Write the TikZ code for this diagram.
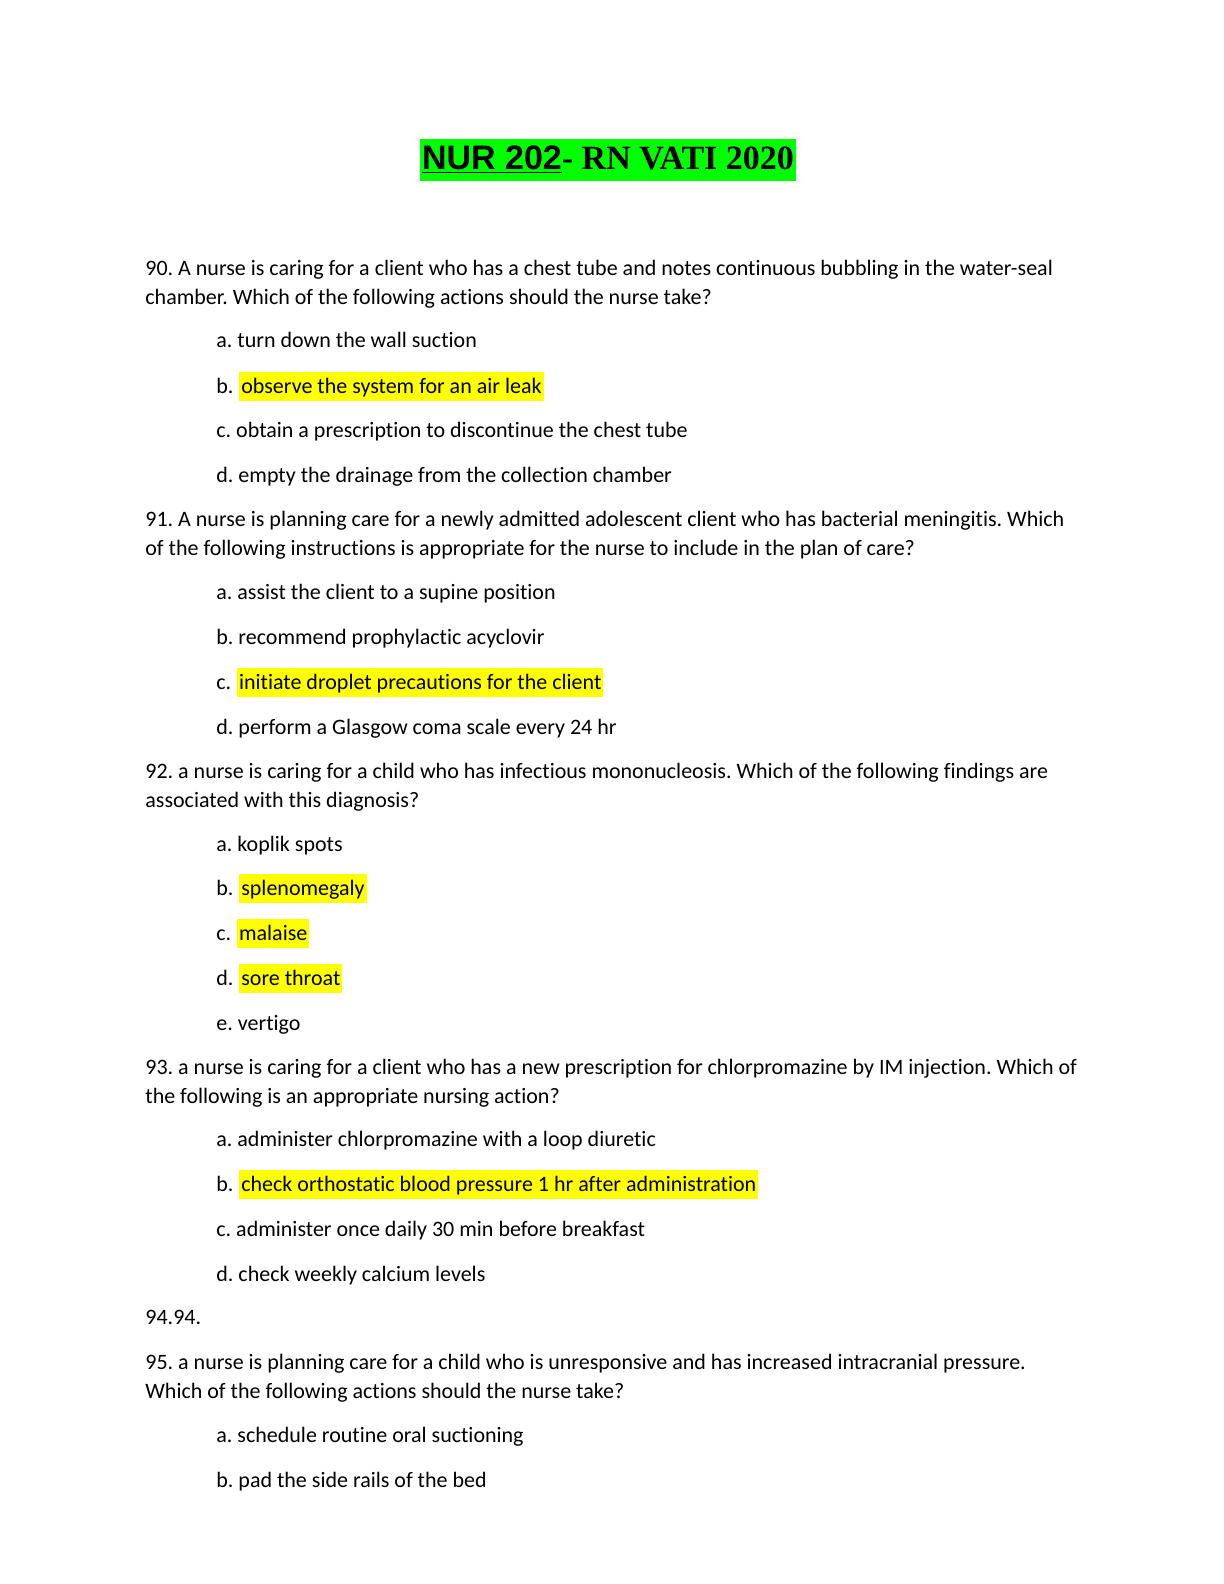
\documentclass[tikz,border=0pt]{standalone}
\usepackage{fontspec}
\setmainfont[Ligatures={NoCommon}]{Carlito}
\newfontfamily\arialfont{Liberation Sans}
\newfontfamily\timesfont{Liberation Serif}
\usetikzlibrary{positioning}
\definecolor{hlyellow}{RGB}{255,255,0}
\definecolor{hlgreen}{RGB}{0,255,0}
\tikzset{
  txt/.style={anchor=base west, inner sep=0pt, font=\frenchspacing\fontsize{11}{13}\selectfont},
  hl/.style={txt, fill=hlyellow, inner xsep=1pt, inner ysep=1.5pt, text depth=2.5pt, text height=9pt},
}
\begin{document}
\begin{tikzpicture}[x=0.5pt, y=-0.5pt]
  \useasboundingbox (0,0) rectangle (1224,1584);

  % title
  \node[fill=hlgreen, inner xsep=1pt, inner ysep=3.5pt, font=\bfseries\fontsize{17}{19}\selectfont] (title) at (608,160)
    {{\arialfont\underline{NUR 202}}{\timesfont- RN VATI 2020}};

  % question 90
  \node[txt] (q90a) at (145,275) {90. A nurse is caring for a client who has a chest tube and notes continuous bubbling in the water-seal};
  \node[txt] (q90b) at (145,304) {chamber. Which of the following actions should the nurse take?};
  \node[txt] (o90a) at (216,347) {a. turn down the wall suction};
  \node[txt] (o90b) at (216,393) {b.};
  \node[hl, anchor=base west] (h90b) at ([xshift=2.5pt]o90b.base east) {observe the system for an air leak};
  \node[txt] (o90c) at (216,437) {c. obtain a prescription to discontinue the chest tube};
  \node[txt] (o90d) at (216,482) {d. empty the drainage from the collection chamber};

  % question 91
  \node[txt] (q91a) at (145,526) {91. A nurse is planning care for a newly admitted adolescent client who has bacterial meningitis. Which};
  \node[txt] (q91b) at (145,555) {of the following instructions is appropriate for the nurse to include in the plan of care?};
  \node[txt] (o91a) at (216,599) {a. assist the client to a supine position};
  \node[txt] (o91b) at (216,644) {b. recommend prophylactic acyclovir};
  \node[txt] (o91c) at (216,689) {c.};
  \node[hl, anchor=base west] (h91c) at ([xshift=2.5pt]o91c.base east) {initiate droplet precautions for the client};
  \node[txt] (o91d) at (216,734) {d. perform a Glasgow coma scale every 24 hr};

  % question 92
  \node[txt] (q92a) at (145,778) {92. a nurse is caring for a child who has infectious mononucleosis. Which of the following findings are};
  \node[txt] (q92b) at (145,807) {associated with this diagnosis?};
  \node[txt] (o92a) at (216,851) {a. koplik spots};
  \node[txt] (o92b) at (216,895) {b.};
  \node[hl, anchor=base west] (h92b) at ([xshift=2.5pt]o92b.base east) {splenomegaly};
  \node[txt] (o92c) at (216,940) {c.};
  \node[hl, anchor=base west] (h92c) at ([xshift=2.5pt]o92c.base east) {malaise};
  \node[txt] (o92d) at (216,985) {d.};
  \node[hl, anchor=base west] (h92d) at ([xshift=2.5pt]o92d.base east) {sore throat};
  \node[txt] (o92e) at (216,1030) {e. vertigo};

  % question 93
  \node[txt] (q93a) at (145,1074) {93. a nurse is caring for a client who has a new prescription for chlorpromazine by IM injection. Which of};
  \node[txt] (q93b) at (145,1103) {the following is an appropriate nursing action?};
  \node[txt] (o93a) at (216,1146) {a. administer chlorpromazine with a loop diuretic};
  \node[txt] (o93b) at (216,1191) {b.};
  \node[hl, anchor=base west] (h93b) at ([xshift=2.5pt]o93b.base east) {check orthostatic blood pressure 1 hr after administration};
  \node[txt] (o93c) at (216,1236) {c. administer once daily 30 min before breakfast};
  \node[txt] (o93d) at (216,1281) {d. check weekly calcium levels};

  % question 94
  \node[txt] (q94) at (145,1324) {94.94.};

  % question 95
  \node[txt] (q95a) at (145,1369) {95. a nurse is planning care for a child who is unresponsive and has increased intracranial pressure.};
  \node[txt] (q95b) at (145,1398) {Which of the following actions should the nurse take?};
  \node[txt] (o95a) at (216,1442) {a. schedule routine oral suctioning};
  \node[txt] (o95b) at (216,1487) {b. pad the side rails of the bed};
\end{tikzpicture}
\end{document}
